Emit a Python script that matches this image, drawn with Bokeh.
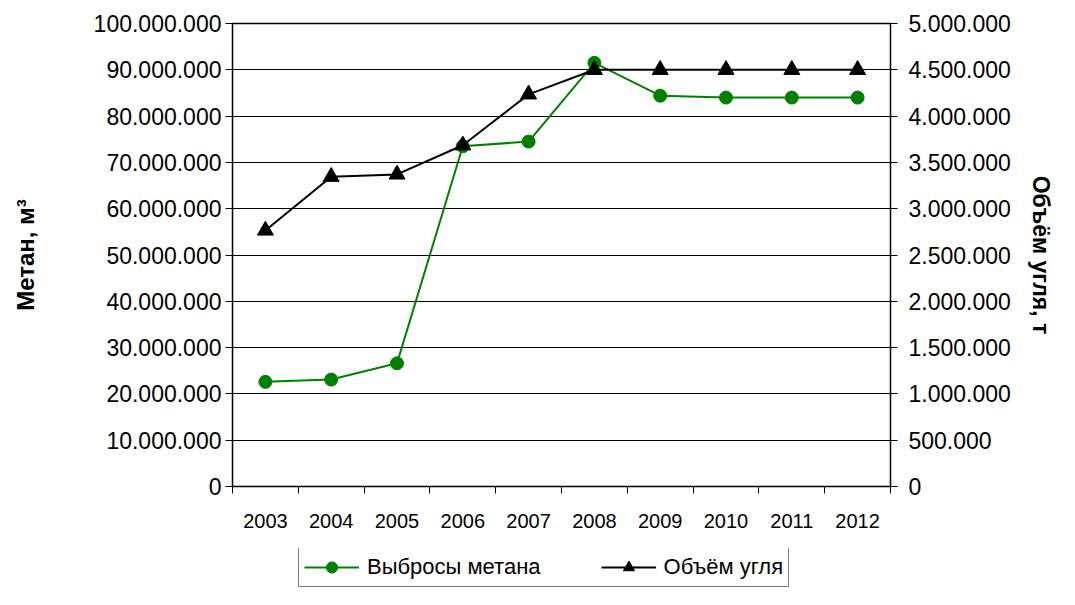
from bokeh.plotting import figure
from bokeh.layouts import column
from bokeh.models import (Range1d, LinearAxis, FixedTicker, CustomJSTickFormatter,
                          Legend, LegendItem, ColumnDataSource)
from bokeh.embed import file_html
from bokeh.resources import INLINE

years = ["2003", "2004", "2005", "2006", "2007", "2008", "2009", "2010", "2011", "2012"]
methane = [22600000, 23100000, 26600000, 73500000, 74500000, 91500000, 84400000, 84000000, 84000000, 84000000]
coal = [2765000, 3345000, 3370000, 3685000, 4235000, 4500000, 4500000, 4500000, 4500000, 4500000]
left_ticks = [0, 10000000, 20000000, 30000000, 40000000, 50000000, 60000000, 70000000, 80000000, 90000000, 100000000]
right_ticks = [0, 500000, 1000000, 1500000, 2000000, 2500000, 3000000, 3500000, 4000000, 4500000, 5000000]
series_names = ["Выбросы метана", "Объём угля"]

FONT = "Liberation Sans"
GREEN = "#008000"

xs = [i + 0.5 for i in range(len(years))]
src = ColumnDataSource(dict(x=xs, methane=methane, coal=coal))

p = figure(width=1059, height=548, output_backend="svg", toolbar_location=None,
           x_range=Range1d(0, len(years)), y_range=Range1d(0, 100000000),
           min_border_left=232, min_border_right=169, min_border_top=23, min_border_bottom=62)
p.extra_y_ranges = {"coal": Range1d(0, 5000000)}
p.outline_line_color = "black"
p.outline_line_width = 1.5
p.background_fill_color = "white"
p.border_fill_color = "white"

fmt = CustomJSTickFormatter(code="""
return Math.round(tick).toString().replace(/\\B(?=(\\d{3})+(?!\\d))/g, ".");
""")

# x axis: labels at centers, tick marks at category boundaries
xa = p.xaxis[0]
xa.ticker = FixedTicker(ticks=xs, minor_ticks=list(range(len(years) + 1)))
xa.major_label_overrides = {x: y for x, y in zip(xs, years)}
xa.major_tick_line_color = None
xa.major_tick_out = 7
xa.minor_tick_line_color = "black"
xa.minor_tick_out = 7
xa.minor_tick_in = 0
xa.axis_line_color = "black"
xa.major_label_standoff = 20
xa.major_label_text_font = FONT
xa.major_label_text_font_size = "20px"
xa.major_label_text_color = "black"

ya = p.yaxis[0]
ya.ticker = FixedTicker(ticks=left_ticks)
ya.formatter = fmt
ya.major_tick_out = 7
ya.major_tick_in = 0
ya.minor_tick_line_color = None
ya.major_label_standoff = 4
ya.major_label_text_font = FONT
ya.major_label_text_font_size = "23px"
ya.major_label_text_color = "black"
ya.axis_label = "Метан, м³"
ya.axis_label_text_font = FONT
ya.axis_label_text_font_style = "bold"
ya.axis_label_text_font_size = "24px"
ya.axis_label_text_color = "black"
ya.axis_label_standoff = 52

ra = LinearAxis(y_range_name="coal", ticker=FixedTicker(ticks=right_ticks), formatter=fmt)
ra.major_tick_out = 7
ra.major_tick_in = 0
ra.minor_tick_line_color = None
ra.major_label_standoff = 11
ra.major_label_text_font = FONT
ra.major_label_text_font_size = "23px"
ra.major_label_text_color = "black"
ra.axis_label = "Объём угля, т"
ra.axis_label_text_font = FONT
ra.axis_label_text_font_style = "bold"
ra.axis_label_text_font_size = "23px"
ra.axis_label_text_color = "black"
ra.axis_label_standoff = 14
p.add_layout(ra, "right")

p.xgrid.grid_line_color = None
p.ygrid.ticker = FixedTicker(ticks=left_ticks)
p.ygrid.grid_line_color = "black"
p.ygrid.grid_line_width = 1

# series
p.line("x", "methane", source=src, line_color=GREEN, line_width=2)
p.scatter("x", "methane", source=src, marker="circle", size=13,
          fill_color=GREEN, line_color=GREEN)
p.line("x", "coal", source=src, y_range_name="coal", line_color="black", line_width=2)
p.scatter("x", "coal", source=src, y_range_name="coal", marker="triangle", size=16,
          fill_color="black", line_color="black")

# legend strip below the chart (its frame is aligned with the chart's frame)
lg = figure(width=1059, height=41, output_backend="svg", toolbar_location=None,
            x_axis_location=None, y_axis_location=None,
            x_range=Range1d(0, 1), y_range=Range1d(0, 1),
            min_border=0, outline_line_color=None)
lg.grid.grid_line_color = None
# legend-only renderers: one point placed outside the visible range
dummy = ColumnDataSource(dict(x=[5], y=[5]))
l1 = lg.line("x", "y", source=dummy, line_color=GREEN, line_width=2)
m1 = lg.scatter("x", "y", source=dummy, marker="circle", size=11, fill_color=GREEN, line_color=GREEN)
l2 = lg.line("x", "y", source=dummy, line_color="black", line_width=2)
m2 = lg.scatter("x", "y", source=dummy, marker="triangle", size=14, fill_color="black", line_color="black")

legend = Legend(items=[LegendItem(label=series_names[0], renderers=[l1, m1]),
                       LegendItem(label=series_names[1], renderers=[l2, m2])],
                orientation="horizontal", location=(66, 2),
                label_text_font=FONT, label_text_font_size="22px", label_text_color="black",
                glyph_width=55, glyph_height=28, label_standoff=8, spacing=60,
                padding=5, margin=0,
                border_line_color="black", border_line_width=1.5,
                background_fill_color="white", background_fill_alpha=1)
lg.add_layout(legend, "center")

layout = column(p, lg, spacing=0)
open("out.html", "w").write(file_html(layout, INLINE))
